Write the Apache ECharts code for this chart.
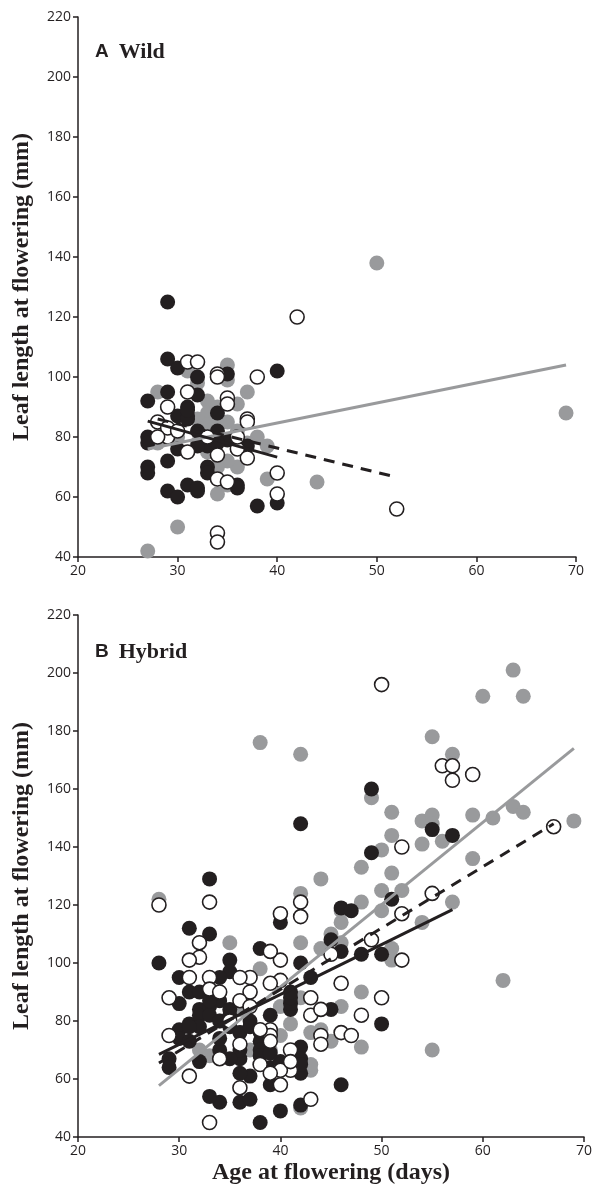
<!DOCTYPE html>
<html>
<head>
<meta charset="UTF-8">
<title>Leaf length at flowering</title>
<script src="https://cdn.jsdelivr.net/npm/echarts/dist/echarts.min.js"></script>
<style>
  html, body { margin: 0; padding: 0; background: #fff; }
  #main { width: 595px; height: 1189px; }
</style>
</head>
<body>
<div id="main"></div>
<script>
// panel A : wild
var wildGrey = [[27,42],[30,50],[34,61],[35,64],[36,70],[39,66],[44,65],[50,138],[69,88],[28,95],[29,90],[31,102],
  [35,104],[35,99],[36,91],[37,95],[33,92],[33,88],[34,90],[34,85],[32,86],[33,84],[34,80],[35,85],[36,82],[32,78],
  [33,75],[35,72],[34,70],[38,80],[39,77],[30,80],[28,78],[36,78],[32,98],[37,78]];
var wildBlack = [[29,125],[29,106],[30,103],[32,100],[35,101],[40,102],[29,95],[32,94],[27,92],[31,90],[30,87],[31,87],
  [31,86],[34,88],[27,80],[27,78],[32,82],[34,82],[33,77],[35,79],[36,77],[37,77],[30,76],[34,78],[27,70],[27,68],
  [29,72],[33,70],[33,68],[29,62],[30,60],[31,64],[32,62],[32,63],[36,64],[36,63],[38,57],[40,58],[31,89],[32,77]];
var wildOpen = [[42,120],[52,56],[31,105],[32,105],[31,95],[34,101],[34,100],[35,93],[35,91],[38,100],[37,86],[37,85],
  [28,85],[29,80],[29,83],[29,90],[31,75],[34,74],[36,76],[37,73],[40,68],[40,61],[34,66],[35,65],[34,48],[34,45],
  [36,80],[30,82],[28,80],[33,80]];
var wildGreyFit = [[27,76],[69,104]];
var wildBlackFit = [[27,85.3],[40,73.3]];
var wildOpenFit = [[28,86],[51.5,67]];

// panel B : hybrid
var hybGrey = [[28,122],[38,176],[42,172],[63,201],[60,192],[64,192],[55,178],[57,172],[59,165],[49,157],[51,152],
  [54,149],[55,151],[55,148],[59,151],[61,150],[63,154],[64,152],[69,149],[56,142],[54,141],[51,144],[50,139],[59,136],
  [48,133],[51,131],[44,129],[42,124],[48,121],[50,125],[50,118],[52,125],[57,121],[54,114],[46,114],[45,110],[42,107],
  [44,105],[46,107],[51,105],[51,101],[35,107],[38,98],[46,93],[46,85],[48,90],[41,79],[37,90],[40,75],[43,76],[45,73],
  [48,71],[55,70],[62,94],[43,63],[42,50],[38,65],[36,76],[32,70],[33,68],[37,70],[44,77],[42,88],[39,70],[36,84],
  [34,80],[40,85],[43,65],[46,118]];
var hybBlack = [[33,129],[31,112],[33,110],[28,100],[30,95],[35,101],[35,97],[34,95],[38,105],[40,114],[42,148],[49,160],
  [49,138],[55,146],[57,144],[51,122],[46,119],[47,118],[45,108],[46,104],[48,103],[50,103],[42,100],[43,95],[45,84],
  [50,79],[46,58],[42,71],[42,67],[42,62],[42,51],[40,49],[38,45],[34,52],[33,54],[36,52],[37,53],[39,58],[37,61],
  [36,62],[36,67],[36,70],[35,67],[34,70],[34,74],[29,67],[29,64],[32,66],[30,77],[30,74],[31,73],[31,79],[30,86],
  [31,90],[32,90],[33,89],[32,84],[32,82],[33,85],[33,82],[34,87],[34,80],[35,82],[35,78],[36,76],[37,80],[37,78],
  [38,76],[38,73],[38,70],[38,68],[39,69],[39,64],[40,66],[41,84],[41,86],[41,88],[41,90],[42,65],[39,82],[40,65],
  [33,87],[32,78],[31,78],[35,84]];
var hybOpen = [[28,120],[33,121],[50,196],[56,168],[57,168],[57,163],[59,165],[52,140],[55,124],[67,147],[52,117],
  [52,101],[49,108],[45,103],[42,121],[42,116],[40,117],[46,93],[50,88],[48,82],[46,76],[47,75],[44,75],[44,72],[43,88],
  [43,82],[44,84],[40,101],[39,104],[40,94],[39,93],[37,95],[37,90],[36,95],[36,87],[32,107],[32,102],[31,101],[31,95],
  [33,95],[29,88],[29,75],[31,61],[33,45],[34,67],[36,57],[40,58],[43,53],[41,63],[39,77],[39,75],[38,65],[41,70],
  [40,63],[39,73],[39,62],[33,91],[35,80],[37,85],[38,77],[34,90],[36,72],[41,66]];
var hybGreyFit = [[28,57.7],[69,174]];
var hybBlackFit = [[28,68.5],[57,118.4]];
var hybOpenFit = [[28,65.5],[67,148]];

var xTicks = [20, 70, 10];
var yTicks = [40, 220, 20];
var yTitle = 'Leaf length at flowering (mm)';
var xTitle = 'Age at flowering (days)';

var ink = '#231f20';
var grey = '#999a9c';

function xAx(idx, name) {
  return {
    gridIndex: idx, type: 'value', min: xTicks[0], max: xTicks[1], interval: xTicks[2],
    axisLine: {lineStyle: {color: ink, width: 1.5}},
    axisTick: {length: 5, lineStyle: {color: ink, width: 1.5}},
    splitLine: {show: false},
    axisLabel: {color: ink, fontSize: 14, fontFamily: 'Open Sans', margin: 7},
    name: name, nameLocation: 'middle', nameGap: 24,
    nameTextStyle: {color: ink, fontSize: 24, fontWeight: 'bold', fontFamily: 'Liberation Serif'}
  };
}
function yAx(idx) {
  return {
    gridIndex: idx, type: 'value', min: yTicks[0], max: yTicks[1], interval: yTicks[2],
    axisLine: {show: true, lineStyle: {color: ink, width: 1.5}},
    axisTick: {show: true, length: 5, lineStyle: {color: ink, width: 1.5}},
    splitLine: {show: false},
    axisLabel: {color: ink, fontSize: 14, fontFamily: 'Open Sans', margin: 7},
    name: yTitle, nameLocation: 'middle', nameRotate: 90, nameGap: 44,
    nameTextStyle: {color: ink, fontSize: 24, fontWeight: 'bold', fontFamily: 'Liberation Serif'}
  };
}

function dots(idx, data, kind) {
  var s = {
    type: 'scatter', xAxisIndex: idx, yAxisIndex: idx, data: data, silent: true,
    symbol: 'circle', symbolSize: 15
  };
  if (kind == 'grey') { s.itemStyle = {color: grey, opacity: 1}; s.z = 2; }
  if (kind == 'black') { s.itemStyle = {color: ink, opacity: 1}; s.z = 3; }
  if (kind == 'open') {
    s.itemStyle = {color: '#fff', borderColor: ink, borderWidth: 1.6, opacity: 1};
    s.symbolSize = 14; s.z = 4;
  }
  return s;
}
function fit(idx, data, color, dashed) {
  return {
    type: 'line', xAxisIndex: idx, yAxisIndex: idx, data: data, silent: true, symbol: 'none', z: 5,
    lineStyle: {color: color, width: 3, type: dashed ? [11, 8] : 'solid'}
  };
}

var rich = {
  a: {fontFamily: 'Liberation Sans', fontWeight: 'bold', fontSize: 19, color: ink},
  b: {fontFamily: 'Liberation Serif', fontWeight: 'bold', fontSize: 22, color: ink}
};

var chart = echarts.init(document.getElementById('main'));
chart.setOption({
  animation: false,
  title: [
    {text: '{a|A}  {b|Wild}', left: 90, top: 36, textStyle: {rich: rich}},
    {text: '{a|B}  {b|Hybrid}', left: 90, top: 636, textStyle: {rich: rich}}
  ],
  grid: [
    {left: 78, top: 17, width: 498, height: 540},
    {left: 78, top: 615, width: 508, height: 522}
  ],
  xAxis: [xAx(0, ''), xAx(1, xTitle)],
  yAxis: [yAx(0), yAx(1)],
  series: [
    dots(0, wildGrey, 'grey'), dots(0, wildBlack, 'black'), dots(0, wildOpen, 'open'),
    fit(0, wildGreyFit, grey, false), fit(0, wildBlackFit, ink, false), fit(0, wildOpenFit, ink, true),
    dots(1, hybGrey, 'grey'), dots(1, hybBlack, 'black'), dots(1, hybOpen, 'open'),
    fit(1, hybGreyFit, grey, false), fit(1, hybBlackFit, ink, false), fit(1, hybOpenFit, ink, true)
  ]
});
</script>
</body>
</html>
